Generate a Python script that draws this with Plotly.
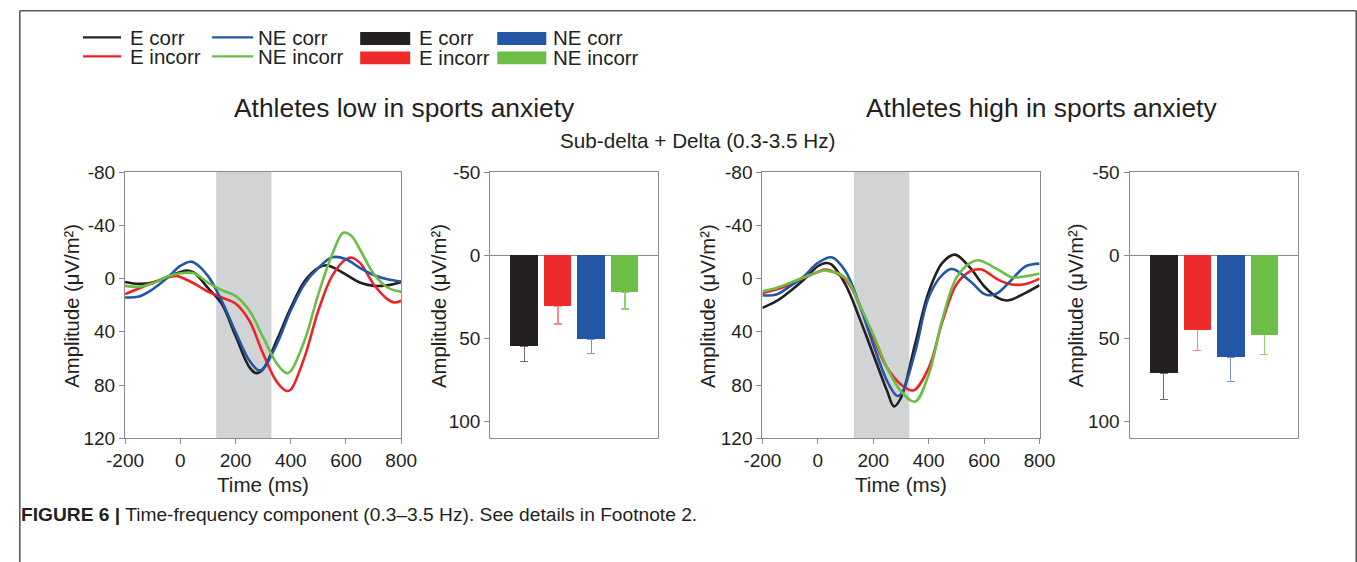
import plotly.graph_objects as go

# Figure size and the calibration between figure pixels and screen pixels of the
# rendered page (screen = offset + scale * figure_px).  All layout positions below
# are given in screen pixels and converted with px()/py().
W, H = 1374, 574
CAL_X0, CAL_SX = 19.0, 0.974
CAL_Y0, CAL_SY = 8.5, 0.966

# ---------- waveform data (time in ms, amplitude in µV/m²) ----------
# Athletes low in sports anxiety
t_low_ecorr = [-200, -150, -100, -50, 0, 25, 50, 100, 150, 200, 250, 275, 300, 350, 400, 450, 500, 530, 600, 650, 700, 750, 800]
v_low_ecorr = [2.5, 4, 3, -1, -5, -6, -4.5, 7, 19, 43, 66.5, 71, 68, 46, 22, 2, -8, -10, -3, 3, 5.5, 5, 2.5]

t_low_necorr = [-200, -150, -100, -50, 0, 35, 50, 100, 150, 200, 250, 285, 300, 350, 400, 450, 500, 550, 600, 650, 700, 750, 800]
v_low_necorr = [14.2, 13.5, 8, 0, -9.5, -12.7, -12, -2, 16.7, 40, 61.5, 69, 67.7, 49, 24, 4, -8, -16, -14.5, -8, -2.7, 0.5, 2.2]

t_low_eincorr = [-200, -150, -100, -50, -15, 0, 50, 100, 150, 200, 250, 300, 350, 385, 400, 450, 500, 550, 600, 620, 650, 700, 750, 775, 800]
v_low_eincorr = [11.7, 7.5, 3, -0.7, -2, -1.2, 3.7, 9.7, 14.2, 18.7, 31.6, 56.5, 77.7, 84.4, 83.4, 59, 24, -2, -14.5, -15.7, -12, 4.2, 15.4, 18, 16.7]

t_low_neincorr = [-200, -150, -100, -50, 0, 50, 100, 150, 200, 250, 300, 350, 385, 400, 450, 500, 550, 590, 620, 650, 700, 750, 800]
v_low_neincorr = [5.5, 6.2, 3.7, -1.2, -4, -4, 3, 8.7, 13, 24, 44, 64, 71, 69.5, 46.5, 11.7, -18, -34.4, -32, -22, -3.7, 6.7, 10]

# Athletes high in sports anxiety
t_high_ecorr = [-200, -150, -100, -50, 0, 30, 50, 100, 150, 200, 250, 275, 300, 350, 400, 450, 495, 550, 600, 650, 680, 700, 750, 800]
v_high_ecorr = [22, 17, 9.5, 0.75, -9.25, -11.75, -10.5, 4.5, 29.5, 57, 84.5, 96, 89.5, 50, 10, -12, -18, -8, 5.75, 14.5, 16.5, 15.75, 10.75, 5]

t_high_necorr = [-200, -150, -100, -50, 0, 50, 100, 150, 200, 250, 285, 300, 350, 400, 450, 485, 550, 600, 625, 650, 700, 750, 800]
v_high_necorr = [12.5, 12, 5.75, -1.75, -11.75, -16, -5.5, 19.5, 49.5, 77, 88, 87, 56, 14, -3, -7.25, 2, 11.5, 12.5, 10.75, 0.75, -9.25, -11.25]

t_high_eincorr = [-200, -150, -100, -50, 0, 30, 100, 150, 200, 250, 300, 345, 400, 450, 500, 550, 590, 650, 700, 750, 800]
v_high_eincorr = [10.75, 8.25, 4.5, -0.5, -5, -6.75, 0.75, 19.5, 44.5, 67, 79.5, 84, 67, 32, 4.5, -5.5, -6.75, 0.75, 4.5, 4, 0]

t_high_neincorr = [-200, -150, -100, -50, 0, 30, 100, 150, 200, 250, 300, 350, 400, 450, 500, 550, 580, 650, 700, 750, 800]
v_high_neincorr = [9.5, 7, 3.25, -1, -5, -6, -0.5, 19.5, 42, 67, 84.5, 92.5, 72, 30, -0.5, -11.75, -13.75, -6.75, -1, -1.75, -3.75]

# ---------- bar data: mean amplitude and error ----------
conditions = ["E corr", "E incorr", "NE corr", "NE incorr"]
bar_low = [55, 31, 50.5, 22.5]
err_low = [9, 10.5, 9, 10]
bar_high = [71, 45, 61.5, 48]
err_high = [16, 12.5, 14.5, 12]

# axis ticks
time_ticks = [-200, 0, 200, 400, 600, 800]
wave_ticks = [-80, -40, 0, 40, 80, 120]
bar_ticks = [-50, 0, 50, 100]

# analysis window (ms)
window = [130, 330]

# ---------- styling ----------
FONT = "Liberation Sans, Arial, sans-serif"
TXT = "#231f20"
AX = "#8a8a8a"
line_colors = {"E corr": "#231f20", "NE corr": "#2356a5", "E incorr": "#ec2327", "NE incorr": "#6abd45"}
bar_colors = ["#231f20", "#ee2a2b", "#2356a5", "#6dbe45"]
err_colors = ["#6d6d6d", "#f28a8a", "#7d91cc", "#8fd26f"]


def px(x):
    """screen x (pixels) -> paper fraction"""
    return (x - CAL_X0) / CAL_SX / W


def py(y):
    """screen y (pixels) -> paper fraction"""
    return 1 - (y - CAL_Y0) / CAL_SY / H


def labels(vals):
    # plain hyphen for negative numbers
    return [str(v) for v in vals]


fig = go.Figure()

low_series = [
    ("E corr", t_low_ecorr, v_low_ecorr),
    ("E incorr", t_low_eincorr, v_low_eincorr),
    ("NE corr", t_low_necorr, v_low_necorr),
    ("NE incorr", t_low_neincorr, v_low_neincorr),
]
high_series = [
    ("E corr", t_high_ecorr, v_high_ecorr),
    ("E incorr", t_high_eincorr, v_high_eincorr),
    ("NE corr", t_high_necorr, v_high_necorr),
    ("NE incorr", t_high_neincorr, v_high_neincorr),
]

for xa, ya, series in (("x", "y", low_series), ("x3", "y3", high_series)):
    for name, t, v in series:
        fig.add_trace(go.Scatter(
            x=t, y=v, mode="lines", name=name, showlegend=False,
            line=dict(color=line_colors[name], width=2.6, shape="spline", smoothing=1.0),
            xaxis=xa, yaxis=ya, hoverinfo="skip"))

for xa, ya, vals, errs in (("x2", "y2", bar_low, err_low), ("x4", "y4", bar_high, err_high)):
    for i, (c, v, e) in enumerate(zip(conditions, vals, errs)):
        # error whisker first (transparent bar), then the visible bar on top of its base cap
        fig.add_trace(go.Bar(
            x=[i], y=[v], width=0.82, name=c, showlegend=False,
            marker=dict(color="rgba(0,0,0,0)", line=dict(width=0)),
            error_y=dict(type="data", symmetric=False, array=[e], arrayminus=[0],
                         color=err_colors[i], thickness=1.3, width=4),
            xaxis=xa, yaxis=ya, hoverinfo="skip"))
        fig.add_trace(go.Bar(
            x=[i], y=[v], width=0.82, name=c, showlegend=False,
            marker=dict(color=bar_colors[i], line=dict(width=0)),
            xaxis=xa, yaxis=ya, hoverinfo="skip"))

# panel geometry in screen pixels
panels = {
    1: (125, 401),
    2: (490, 658),
    3: (762, 1039),
    4: (1129, 1297),
}
y_top, y_bot = 171, 438
ydom = [py(y_bot), py(y_top)]

axis_common = dict(showline=True, linecolor=AX, linewidth=1.2, mirror=True, showgrid=False,
                   zeroline=False, tickfont=dict(family=FONT, size=19, color=TXT))

layout_axes = {}
for k, (x0, x1) in panels.items():
    sx = "" if k == 1 else str(k)
    xd = dict(domain=[px(x0), px(x1)], anchor="y" + sx, **axis_common)
    yd = dict(domain=ydom, anchor="x" + sx, **axis_common)
    if k in (1, 3):
        xd.update(range=[-200, 800], tickvals=time_ticks, ticktext=labels(time_ticks),
                  ticks="outside", ticklen=5, tickcolor=AX)
        yd.update(range=[120, -80], tickvals=wave_ticks, ticktext=labels(wave_ticks),
                  ticks="outside", ticklen=5, tickcolor=AX)
    else:
        xd.update(range=[-1.02, 4.0], showticklabels=False, ticks="")
        yd.update(range=[110.4, -50], tickvals=bar_ticks, ticktext=labels(bar_ticks), ticks="outside",
                  ticklen=5, tickcolor=AX, zeroline=True, zerolinecolor=AX, zerolinewidth=1.2)
    layout_axes["xaxis" + sx] = xd
    layout_axes["yaxis" + sx] = yd

shapes = []
# analysis window shading
for xa, ya in (("x", "y"), ("x3", "y3")):
    shapes.append(dict(type="rect", xref=xa, yref=ya + " domain", x0=window[0], x1=window[1],
                       y0=0, y1=1, fillcolor="#d1d3d5", line=dict(width=0), layer="below"))
# frame around the figure (top, left and right edges)
fx_left = max(px(7.5), 0.8 / W)
fy_top = min(py(8), 1 - 0.8 / H)
frame = [(fx_left, fy_top, px(1355.5), fy_top),
         (fx_left, fy_top, fx_left, 0.0),
         (px(1355.5), fy_top, px(1355.5), 0.0)]
for x0, y0, x1, y1 in frame:
    shapes.append(dict(type="line", xref="paper", yref="paper", x0=x0, x1=x1,
                       y0=y0, y1=y1, line=dict(color="#5a5a5a", width=1.6)))

annotations = []


def text(x, y, s, size, angle=0, xanchor="center"):
    annotations.append(dict(x=px(x), y=py(y), xref="paper", yref="paper", text=s, showarrow=False,
                            xanchor=xanchor, yanchor="middle", textangle=angle, borderpad=0,
                            font=dict(family=FONT, size=size, color=TXT)))


# custom legend
leg_rows = [36, 55]
line_cols = [(83, 121, 129, ["E corr", "E incorr"]), (212, 253, 257, ["NE corr", "NE incorr"])]
for x0, x1, xt, names in line_cols:
    for yy, n in zip(leg_rows, names):
        shapes.append(dict(type="line", xref="paper", yref="paper", x0=px(x0), x1=px(x1),
                           y0=py(yy), y1=py(yy), line=dict(color=line_colors[n], width=2.2)))
        text(xt, yy, n, 20.5, xanchor="left")
bar_cols = [(360, 410, 418, [0, 1]), (497, 546, 552, [2, 3])]
for x0, x1, xt, idx in bar_cols:
    for yy, i in zip([37, 56.5], idx):
        shapes.append(dict(type="rect", xref="paper", yref="paper", x0=px(x0), x1=px(x1),
                           y0=py(yy + 6.5), y1=py(yy - 6.5), fillcolor=bar_colors[i], line=dict(width=0)))
        text(xt, yy - 0.5, conditions[i], 20.5, xanchor="left")

# titles
text(404, 107, "Athletes low in sports anxiety", 26.4)
text(1041, 107, "Athletes high in sports anxiety", 26.4)
text(697, 139, "Sub-delta + Delta (0.3-3.5 Hz)", 20.7)

# axis titles
for xc in (72, 438, 707, 1075):
    text(xc, 305, "Amplitude (μV/m²)", 20.3, angle=-90)
for xc in (263, 901):
    text(xc, 484, "Time (ms)", 20.6)

# caption
annotations.append(dict(x=px(19), y=py(514), xref="paper", yref="paper", showarrow=False,
                        xanchor="left", yanchor="middle",
                        text="<b>FIGURE 6 |</b> Time-frequency component (0.3–3.5 Hz). See details in Footnote 2.",
                        font=dict(family=FONT, size=19.2, color=TXT)))

fig.update_layout(
    width=W, height=H, margin=dict(l=0, r=0, t=0, b=0),
    paper_bgcolor="white", plot_bgcolor="white", showlegend=False,
    barmode="overlay", bargap=0, shapes=shapes, annotations=annotations, **layout_axes)

fig.write_html("out.html")
